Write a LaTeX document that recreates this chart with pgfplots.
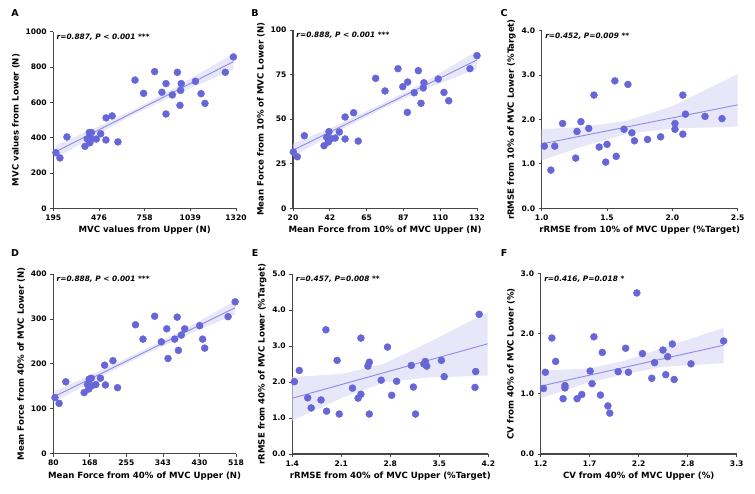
\documentclass[border=0pt]{standalone}
\usepackage{pgfplots}
\pgfplotsset{compat=1.18}
\usepackage{fontspec}
\setmainfont{DejaVu Sans}
\definecolor{pts}{RGB}{102,102,216}
\definecolor{regl}{RGB}{140,140,228}
\definecolor{band}{RGB}{228,228,248}
\definecolor{spine}{RGB}{70,70,70}
\pgfplotsset{
  panel/.style={
    scale only axis, anchor=south west,
    axis lines=left, axis line style={-, draw=spine, line width=1.3pt},
    tick style={draw=spine, line width=0.8pt}, tick align=outside, major tick length=3pt,
    xtick pos=bottom, ytick pos=left,
    tick label style={font=\fontsize{7.6}{8}\selectfont\bfseries},
    label style={font=\fontsize{8.6}{10}\selectfont\bfseries},
    xlabel style={yshift=1pt},
    ylabel style={yshift=-1pt},
    /pgf/number format/assume math mode=true,
    /pgf/number format/1000 sep={},
    clip=false,
  },
  pts/.style={only marks, mark=*, mark size=3.5pt, mark options={fill=pts, draw=pts}},
  regl/.style={no marks, draw=regl, line width=0.9pt},
  band/.style={fill=band, draw=none, fill opacity=0.9},
}
\newcommand{\annot}[1]{\node[anchor=north west, inner sep=1pt, font=\fontsize{7.4}{8}\selectfont\bfseries\itshape] at (rel axis cs:0.012,0.995) {#1};}
\begin{document}
\begin{tikzpicture}[x=1pt,y=1pt]
\useasboundingbox (0,0) rectangle (755,494);
% ---------------- A
\begin{axis}[panel, at={(53.3pt,285.7pt)}, width=182.7pt, height=176.6pt,
  xmin=195, xmax=1320, ymin=0, ymax=1000,
  xtick={195,476.25,757.5,1038.75,1320}, xticklabels={195,476,758,1039,1320},
  ytick={0,200,400,600,800,1000}, yticklabels={0,200,400,600,800,1000},
  xlabel={MVC values from Upper (N)}, ylabel={MVC values from Lower (N)}]
\addplot[band] coordinates {(211,356) (450,454) (700,563) (950,686) (1304,875) (1304,785) (950,644) (700,535) (450,410) (211,286)} --cycle;
\addplot[regl] coordinates {(211,321) (1304,830)};
\addplot[pts] coordinates {
(211,315) (236,285) (279,404) (390,351) (404,393) (417,429) (430,429) (431,391) (420,371)
(460,392) (487,422) (519,387) (520,512) (557,523) (593,376) (698,726) (751,651) (819,774)
(864,657) (889,706) (889,534) (928,642) (959,770) (975,583) (979,668) (983,706) (1070,719)
(1105,649) (1129,594) (1254,770) (1304,857)};
\annot{r=0.887, P < 0.001 ***}
\end{axis}
% ---------------- B
\begin{axis}[panel, at={(293pt,285.7pt)}, width=184pt, height=178.3pt,
  xmin=20, xmax=132, ymin=0, ymax=100,
  xtick={20,42.4,64.8,87.2,109.6,132}, xticklabels={20,42,65,87,110,132},
  ytick={0,25,50,75,100},
  xlabel={Mean Force from 10\% of MVC Upper (N)}, ylabel={Mean Force from 10\% of MVC Lower (N)}]
\addplot[band] coordinates {(20.2,36.3) (45,45.9) (75,58.9) (100,70.7) (132,88.2) (132,78.2) (100,66.7) (75,56.1) (45,41.9) (20.2,29.1)} --cycle;
\addplot[regl] coordinates {(20.2,32.7) (132,83.2)};
\addplot[pts] coordinates {
(20.2,31.6) (22.6,28.9) (26.9,40.7) (38.9,35.1) (40.5,39.8) (41.5,37.2) (41.9,43.0) (43.1,39.0)
(45.7,39.4) (48.2,42.8) (51.7,51.2) (51.7,38.9) (56.9,53.6) (59.7,37.7) (70.3,72.9) (76.0,65.8)
(83.9,78.3) (86.8,68.2) (89.8,70.8) (89.6,53.8) (93.8,64.8) (96.3,77.2) (97.9,58.9) (99.3,67.5)
(99.7,70.4) (108.4,72.5) (111.9,65.0) (114.8,60.3) (127.7,78.3) (132,85.6)};
\annot{r=0.888, P < 0.001 ***}
\end{axis}
% ---------------- C
\begin{axis}[panel, at={(541.7pt,285.7pt)}, width=196pt, height=177.6pt,
  xmin=1.0, xmax=2.5, ymin=0, ymax=4,
  xtick={1.0,1.5,2.0,2.5}, xticklabels={1.0,1.5,2.0,2.5},
  ytick={0,1,2,3,4}, yticklabels={0.0,1.0,2.0,3.0,4.0},
  xlabel={rRMSE from 10\% of MVC Upper (\%Target)}, ylabel={rRMSE from 10\% of MVC Lower (\%Target)}]
\addplot[band] coordinates {(1.0,1.78) (1.3,1.83) (1.65,1.97) (2.0,2.30) (2.5,3.02) (2.5,1.84) (2.0,1.80) (1.65,1.68) (1.3,1.38) (1.0,1.08)} --cycle;
\addplot[regl] coordinates {(1.0,1.45) (2.5,2.33)};
\addplot[pts] coordinates {
(1.02,1.40) (1.07,0.86) (1.10,1.40) (1.16,1.91) (1.26,1.13) (1.27,1.73) (1.30,1.95) (1.36,1.80)
(1.40,2.55) (1.44,1.38) (1.49,1.04) (1.50,1.44) (1.56,2.87) (1.57,1.17) (1.63,1.78) (1.66,2.79)
(1.69,1.70) (1.71,1.52) (1.81,1.55) (1.91,1.61) (2.02,1.91) (2.02,1.78) (2.08,2.55) (2.08,1.67)
(2.10,2.12) (2.25,2.07) (2.38,2.02)};
\annot{r=0.452, P=0.009 **}
\end{axis}
% ---------------- D
\begin{axis}[panel, at={(53.3pt,40.3pt)}, width=182.7pt, height=179.7pt,
  xmin=80, xmax=518, ymin=0, ymax=400,
  xtick={80,167.6,255.2,342.8,430.4,518}, xticklabels={80,168,255,343,430,518},
  ytick={0,100,200,300,400},
  xlabel={Mean Force from 40\% of MVC Upper (N)}, ylabel={Mean Force from 40\% of MVC Lower (N)}]
\addplot[band] coordinates {(84,139) (200,188) (300,232) (400,280) (516,340) (516,310) (400,264) (300,221) (200,174) (84,116)} --cycle;
\addplot[regl] coordinates {(84,128) (516,325)};
\addplot[pts] coordinates {
(84,125) (94,112) (110,160) (154,136) (162,154) (165,144) (166,166) (171,168) (172,151)
(182,154) (193,168) (203,197) (205,153) (223,207) (234,147) (277,287) (295,255) (323,306)
(339,249) (352,278) (355,212) (371,255) (377,304) (380,230) (387,264) (395,278) (431,285)
(438,255) (443,235) (499,305) (516,338)};
\annot{r=0.888, P < 0.001 ***}
\end{axis}
% ---------------- E
\begin{axis}[panel, at={(292.3pt,40pt)}, width=196pt, height=180pt,
  xmin=1.4, xmax=4.2, ymin=0, ymax=5,
  xtick={1.4,2.1,2.8,3.5,4.2}, xticklabels={1.4,2.1,2.8,3.5,4.2},
  ytick={0,1,2,3,4,5}, yticklabels={0.0,1.0,2.0,3.0,4.0,5.0},
  xlabel={rRMSE from 40\% of MVC Upper (\%Target)}, ylabel={rRMSE from 40\% of MVC Lower (\%Target)}]
\addplot[band] coordinates {(1.4,2.14) (2.1,2.22) (2.7,2.50) (3.3,3.05) (4.19,3.94) (4.19,2.18) (3.3,2.12) (2.7,1.98) (2.1,1.55) (1.4,0.93)} --cycle;
\addplot[regl] coordinates {(1.4,1.55) (4.19,3.06)};
\addplot[pts] coordinates {
(1.43,2.01) (1.50,2.32) (1.62,1.56) (1.67,1.28) (1.81,1.50) (1.88,3.45) (1.89,1.19) (2.04,2.60)
(2.07,1.11) (2.26,1.83) (2.34,1.55) (2.38,3.22) (2.38,1.66) (2.48,2.44) (2.50,2.55) (2.50,1.11)
(2.67,2.05) (2.76,2.97) (2.82,1.63) (2.89,2.02) (3.10,2.46) (3.13,1.86) (3.16,1.11) (3.28,2.50)
(3.30,2.57) (3.32,2.44) (3.53,2.60) (3.57,2.15) (4.01,1.85) (4.02,2.29) (4.07,3.88)};
\annot{r=0.457, P=0.008 **}
\end{axis}
% ---------------- F
\begin{axis}[panel, at={(540.7pt,40pt)}, width=196pt, height=180.3pt,
  xmin=1.2, xmax=3.3, ymin=0, ymax=3,
  xtick={1.2,1.725,2.25,2.775,3.3}, xticklabels={1.2,1.7,2.2,2.8,3.3},
  ytick={0,1,2,3}, yticklabels={0.0,1.0,2.0,3.0},
  xlabel={CV from 40\% of MVC Upper (\%)}, ylabel={CV from 40\% of MVC Lower (\%)}]
\addplot[band] coordinates {(1.2,1.39) (1.7,1.42) (2.1,1.55) (2.5,1.76) (3.16,2.10) (3.16,1.51) (2.5,1.45) (2.1,1.33) (1.7,1.18) (1.2,0.93)} --cycle;
\addplot[regl] coordinates {(1.2,1.13) (3.16,1.81)};
\addplot[pts] coordinates {
(1.23,1.09) (1.25,1.36) (1.32,1.93) (1.36,1.54) (1.44,0.92) (1.46,1.14) (1.46,1.10) (1.59,0.92)
(1.64,0.99) (1.73,1.38) (1.75,1.17) (1.77,1.95) (1.84,0.98) (1.86,1.69) (1.92,0.80) (1.94,0.68)
(2.03,1.37) (2.11,1.76) (2.14,1.36) (2.23,2.68) (2.29,1.67) (2.39,1.26) (2.42,1.52) (2.51,1.73)
(2.54,1.32) (2.56,1.62) (2.61,1.83) (2.63,1.24) (2.81,1.50) (3.16,1.88)};
\annot{r=0.416, P=0.018 *}
\end{axis}
% panel letters
\begin{scope}[font=\fontsize{9.5}{10}\selectfont\bfseries]
\node at (15,481) {A};
\node at (255,481) {B};
\node at (504,481) {C};
\node at (15,241) {D};
\node at (255,241) {E};
\node at (504,241) {F};
\end{scope}
\end{tikzpicture}
\end{document}
